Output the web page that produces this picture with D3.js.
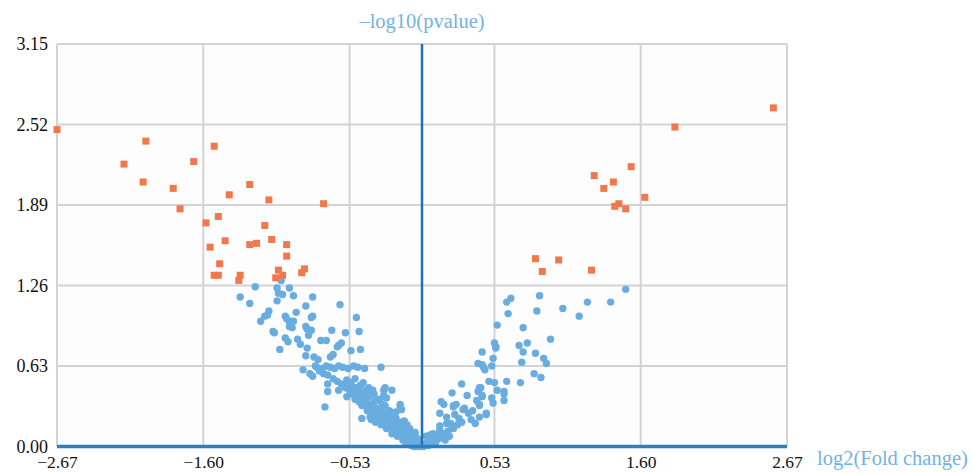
<!DOCTYPE html>
<html>
<head>
<meta charset="utf-8">
<script src="https://cdn.jsdelivr.net/npm/d3@7"></script>
<style>
  body { margin: 0; background: #fff; }
  svg { display: block; font-family: "Liberation Serif", "DejaVu Serif", serif; }
</style>
</head>
<body>
<svg id="chart" width="973" height="474"></svg>
<script>
/*** DATA ***/
const xTicks = [-2.67, -1.60, -0.53, 0.53, 1.60, 2.67];
const yTicks = [0.00, 0.63, 1.26, 1.89, 2.52, 3.15];

// significant genes (orange squares), [log2FC, -log10 p]
const sigLeft = [
  [-2.67, 2.48], [-2.02, 2.39], [-1.52, 2.35], [-2.18, 2.21], [-1.67, 2.23],
  [-2.04, 2.07], [-1.82, 2.02], [-1.26, 2.05], [-1.41, 1.97], [-1.12, 1.93],
  [-0.72, 1.90], [-1.77, 1.86], [-1.49, 1.80], [-1.58, 1.75], [-1.15, 1.73],
  [-1.44, 1.61], [-1.10, 1.62], [-1.55, 1.56], [-1.26, 1.58], [-1.21, 1.59],
  [-0.99, 1.58], [-0.99, 1.49], [-1.48, 1.43], [-1.52, 1.34], [-1.49, 1.34],
  [-1.33, 1.34], [-1.34, 1.30], [-1.05, 1.38], [-1.02, 1.34], [-1.07, 1.32],
  [-0.88, 1.36], [-0.86, 1.39]
];
const sigRight = [
  [2.57, 2.65], [1.85, 2.50], [1.53, 2.19], [1.26, 2.12], [1.40, 2.07],
  [1.33, 2.02], [1.63, 1.95], [1.44, 1.90], [1.41, 1.88], [1.49, 1.86],
  [0.83, 1.47], [1.00, 1.46], [0.88, 1.37], [1.24, 1.38]
];

// non-significant genes (blue dots)
const nsLeft = [
  [-1.03, 1.30], [-1.22, 1.25], [-1.06, 1.24], [-1.05, 1.20], [-0.97, 1.24],
  [-1.02, 1.19], [-1.33, 1.17], [-1.26, 1.12], [-1.06, 1.14], [-0.94, 1.18],
  [-0.80, 1.17], [-0.60, 1.11], [-0.85, 1.10], [-0.92, 1.05], [-1.12, 1.06],
  [-1.13, 1.03], [-1.15, 1.02], [-1.18, 0.98], [-1.00, 1.02], [-0.99, 1.00],
  [-0.97, 0.98], [-0.94, 0.98], [-0.97, 0.94], [-0.95, 0.93], [-0.80, 1.02],
  [-0.81, 1.01], [-0.48, 1.01], [-0.85, 0.94], [-0.84, 0.92], [-0.81, 0.91],
  [-0.83, 0.87], [-1.09, 0.90], [-1.08, 0.89], [-0.66, 0.91], [-0.46, 0.90],
  [-0.56, 0.89], [-1.00, 0.85], [-0.98, 0.82], [-0.91, 0.84], [-0.89, 0.80],
  [-0.74, 0.83], [-0.70, 0.83], [-0.61, 0.79], [-0.59, 0.81], [-0.62, 0.78],
  [-0.84, 0.77], [-1.04, 0.76], [-0.52, 0.75], [-0.45, 0.76], [-0.85, 0.71],
  [-0.79, 0.70], [-0.76, 0.68], [-0.67, 0.70], [-0.65, 0.72],
  [-0.78, 0.63], [-0.77, 0.62], [-0.73, 0.61], [-0.70, 0.63], [-0.67, 0.62],
  [-0.64, 0.61], [-0.61, 0.63], [-0.58, 0.62], [-0.54, 0.61], [-0.50, 0.63],
  [-0.47, 0.62], [-0.42, 0.61], [-0.30, 0.62],
  [-0.87, 0.60], [-0.82, 0.57], [-0.80, 0.55], [-0.75, 0.59], [-0.72, 0.57],
  [-0.69, 0.56], [-0.65, 0.53], [-0.62, 0.51], [-0.59, 0.49], [-0.55, 0.48],
  [-0.51, 0.47], [-0.48, 0.46], [-0.45, 0.48], [-0.55, 0.52], [-0.69, 0.49],
  [-0.69, 0.43], [-0.61, 0.44], [-0.55, 0.39], [-0.48, 0.40], [-0.43, 0.42],
  [-0.36, 0.44], [-0.28, 0.44], [-0.28, 0.40], [-0.26, 0.38], [-0.71, 0.31],
  [-0.44, 0.32], [-0.40, 0.31], [-0.36, 0.29], [-0.31, 0.27], [-0.44, 0.22],
  [-0.38, 0.23], [-0.32, 0.22], [-0.26, 0.25], [-0.21, 0.22], [-0.16, 0.31],
  [-0.19, 0.27], [-0.21, 0.18], [-0.16, 0.15], [-0.11, 0.13], [-0.06, 0.10],
  [-0.03, 0.06], [-0.27, 0.46], [-0.22, 0.44], [-0.16, 0.33], [-0.15, 0.29],
  [-0.56, 0.46], [-0.53, 0.44], [-0.52, 0.41], [-0.50, 0.42], [-0.49, 0.37],
  [-0.47, 0.38], [-0.46, 0.35], [-0.45, 0.40], [-0.44, 0.36], [-0.43, 0.33],
  [-0.42, 0.37], [-0.41, 0.34], [-0.40, 0.28], [-0.39, 0.33], [-0.38, 0.30],
  [-0.37, 0.26], [-0.36, 0.32], [-0.35, 0.27], [-0.34, 0.24], [-0.33, 0.30],
  [-0.32, 0.25], [-0.31, 0.21], [-0.30, 0.29], [-0.29, 0.23], [-0.28, 0.19],
  [-0.27, 0.26], [-0.26, 0.21], [-0.25, 0.17], [-0.24, 0.23], [-0.23, 0.19],
  [-0.22, 0.15], [-0.21, 0.12], [-0.20, 0.20], [-0.19, 0.16], [-0.18, 0.13],
  [-0.17, 0.19], [-0.16, 0.11], [-0.15, 0.15], [-0.14, 0.09], [-0.13, 0.13],
  [-0.12, 0.07], [-0.11, 0.10], [-0.10, 0.06], [-0.09, 0.09], [-0.08, 0.04],
  [-0.07, 0.07], [-0.06, 0.03], [-0.05, 0.05], [-0.04, 0.02], [-0.03, 0.03],
  [-0.02, 0.01], [-0.01, 0.02], [-0.12, 0.03], [-0.10, 0.02], [-0.08, 0.01],
  [-0.06, 0.00], [-0.14, 0.05], [-0.18, 0.08], [-0.22, 0.10], [-0.26, 0.14],
  [-0.30, 0.17], [-0.34, 0.19], [-0.13, 0.20], [-0.11, 0.17], [-0.09, 0.14],
  [-0.07, 0.11], [-0.05, 0.08], [-0.04, 0.05], [-0.20, 0.24], [-0.24, 0.28],
  [-0.29, 0.33], [-0.33, 0.36], [-0.38, 0.40], [-0.41, 0.44], [-0.46, 0.43],
  [-0.52, 0.50], [-0.49, 0.53], [-0.43, 0.50], [-0.39, 0.46], [-0.35, 0.41],
  [-0.31, 0.37], [-0.27, 0.32], [-0.23, 0.27], [-0.19, 0.22], [-0.15, 0.19],
  [-0.12, 0.16], [-0.09, 0.12], [-0.05, 0.11], [-0.02, 0.05], [-0.01, 0.00],
  [-0.04, 0.00], [-0.02, 0.03], [-0.35, 0.35], [-0.40, 0.38], [-0.37, 0.21]
];
const nsRight = [
  [1.49, 1.23], [1.38, 1.13], [1.21, 1.13], [1.15, 1.02], [1.03, 1.08],
  [0.86, 1.18], [0.84, 1.06], [0.65, 1.16], [0.62, 1.13], [0.63, 1.04],
  [0.55, 0.95], [0.74, 0.93], [0.94, 0.84], [0.77, 0.81], [0.71, 0.79],
  [0.74, 0.74], [0.83, 0.73], [0.89, 0.69], [0.91, 0.65], [0.73, 0.66],
  [0.82, 0.57], [0.87, 0.54], [0.72, 0.50], [0.53, 0.81], [0.54, 0.77],
  [0.52, 0.69], [0.51, 0.63], [0.54, 0.78], [0.44, 0.74], [0.41, 0.65],
  [0.44, 0.64], [0.46, 0.60], [0.45, 0.62], [0.49, 0.51], [0.53, 0.50],
  [0.62, 0.51], [0.55, 0.44], [0.60, 0.43], [0.60, 0.41], [0.60, 0.36],
  [0.51, 0.38], [0.52, 0.34], [0.43, 0.46], [0.41, 0.43], [0.44, 0.40],
  [0.40, 0.36], [0.42, 0.33], [0.47, 0.26], [0.42, 0.23], [0.36, 0.21],
  [0.29, 0.49], [0.22, 0.42], [0.14, 0.35], [0.16, 0.33], [0.13, 0.26],
  [0.33, 0.40], [0.31, 0.30], [0.25, 0.33], [0.23, 0.31], [0.30, 0.29],
  [0.24, 0.25], [0.29, 0.19], [0.23, 0.14], [0.18, 0.18], [0.13, 0.13],
  [0.08, 0.10], [0.03, 0.08], [0.42, 0.46], [0.44, 0.39], [0.42, 0.32],
  [0.47, 0.25], [0.23, 0.32], [0.18, 0.23], [0.21, 0.18], [0.13, 0.16],
  [0.06, 0.09], [0.00, 0.01], [0.01, 0.00], [0.02, 0.02], [0.04, 0.03],
  [0.05, 0.01], [0.07, 0.04], [0.09, 0.05], [0.10, 0.03], [0.12, 0.06],
  [0.14, 0.07], [0.06, 0.06], [0.11, 0.09], [0.16, 0.10], [0.19, 0.12],
  [0.22, 0.15], [0.26, 0.17], [0.20, 0.08], [0.03, 0.01], [0.08, 0.02],
  [0.17, 0.05], [0.27, 0.22], [0.34, 0.26], [0.37, 0.28], [0.39, 0.18]
];

/*** LAYOUT ***/
const margin = { top: 44, right: 186, bottom: 27.5, left: 57 };
const WIDTH = 973, HEIGHT = 474;

const svg = d3.select('#chart');

const x = d3.scaleLinear()
  .domain([-2.67, 2.67])
  .range([margin.left, WIDTH - margin.right]);

const y = d3.scaleLinear()
  .domain([0, 3.15])
  .range([HEIGHT - margin.bottom, margin.top]);

// plot background + grid
svg.append('rect')
  .attr('x', x(-2.67)).attr('y', y(3.15))
  .attr('width', x(2.67) - x(-2.67)).attr('height', y(0) - y(3.15))
  .attr('fill', '#fdfdfd');

const grid = svg.append('g').attr('stroke', '#d3d3d3').attr('stroke-width', 2);

grid.selectAll('.gx')
  .data(xTicks)
  .join('line')
  .attr('x1', d => x(d)).attr('x2', d => x(d))
  .attr('y1', y(0)).attr('y2', y(3.15));

grid.selectAll('.gy')
  .data(yTicks)
  .join('line')
  .attr('x1', x(-2.67)).attr('x2', x(2.67))
  .attr('y1', d => y(d)).attr('y2', d => y(d));

// axis labels with d3 axes, domain and ticks hidden
const xAxis = svg.append('g')
  .attr('transform', `translate(0,${y(0)})`)
  .call(d3.axisBottom(x).tickValues(xTicks).tickSize(0).tickPadding(9)
    .tickFormat(d => d3.format('.2f')(d).replace('-', '\u2212')));
xAxis.select('.domain').remove();
xAxis.selectAll('text').attr('font-size', 17.5).attr('fill', '#111')
  .attr('font-family', '"Liberation Serif", serif');

const yAxis = svg.append('g')
  .attr('transform', `translate(${x(-2.67)},0)`)
  .call(d3.axisLeft(y).tickValues(yTicks).tickSize(0).tickPadding(9)
    .tickFormat(d3.format('.2f')));
yAxis.select('.domain').remove();
yAxis.selectAll('text').attr('font-size', 18).attr('fill', '#111')
  .attr('font-family', '"Liberation Serif", serif');

// points
const pts = svg.append('g');

pts.selectAll('.ns')
  .data(nsLeft.concat(nsRight))
  .join('circle')
  .attr('cx', d => x(d[0]))
  .attr('cy', d => y(d[1]))
  .attr('r', 3.7)
  .attr('fill', '#69ade0');

pts.selectAll('.sig')
  .data(sigLeft.concat(sigRight))
  .join('rect')
  .attr('x', d => x(d[0]) - 3.5)
  .attr('y', d => y(d[1]) - 3.5)
  .attr('width', 7)
  .attr('height', 7)
  .attr('fill', '#f0784c');

// center line and baseline
svg.append('line')
  .attr('x1', x(0)).attr('x2', x(0))
  .attr('y1', y(3.15)).attr('y2', y(0))
  .attr('stroke', '#1f72b5').attr('stroke-width', 2.5);

svg.append('line')
  .attr('x1', x(-2.67)).attr('x2', x(2.67))
  .attr('y1', y(0)).attr('y2', y(0))
  .attr('stroke', '#2f7fc0').attr('stroke-width', 3.5);

// titles
svg.append('text')
  .attr('x', x(0)).attr('y', 28)
  .attr('text-anchor', 'middle')
  .attr('font-size', 20.5)
  .attr('fill', '#72b3e3')
  .text('\u2013log10(pvalue)');

svg.append('text')
  .attr('x', 817).attr('y', 465)
  .attr('font-size', 20.5)
  .attr('fill', '#72b3e3')
  .text('log2(Fold change)');
</script>
</body>
</html>
